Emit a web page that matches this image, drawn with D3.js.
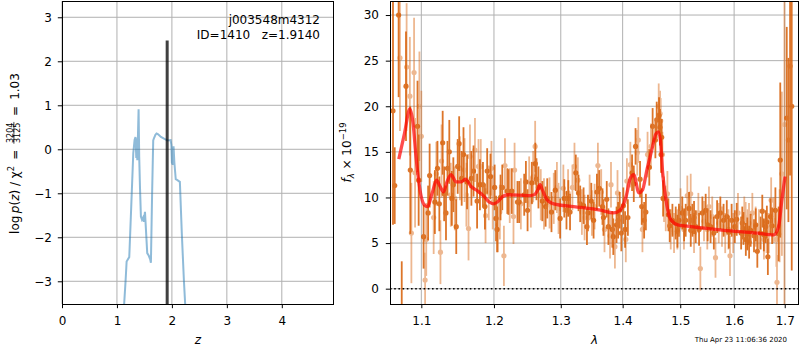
<!DOCTYPE html>
<html><head><meta charset="utf-8">
<script src="https://cdn.jsdelivr.net/npm/d3@7"></script>
<style>
body{margin:0;background:#fff;}
text{font-family:"DejaVu Sans",sans-serif;}
</style></head><body>
<svg id="c" width="800" height="350" xmlns="http://www.w3.org/2000/svg"></svg>
<script>
// ---------- DATA ----------
const objName = "j003548m4312";
const objInfo = "ID=1410   z=1.9140";
const stamp = "Thu Apr 23 11:06:36 2020";
const zBest = 1.914, zBestHeight = 2.47;

const zTicks = [0, 1, 2, 3, 4];
const logpTicks = [-3, -2, -1, 0, 1, 2, 3];
const lamTicks = [1.1, 1.2, 1.3, 1.4, 1.5, 1.6, 1.7];
const fluxTicks = [0, 5, 10, 15, 20, 25, 30];

const zGrid = [1.127,1.158,1.176,1.200,1.224,1.260,1.297,1.321,1.338,1.352,1.360,1.370,1.380,1.394,1.405,1.420,1.436,1.455,1.475,1.490,1.510,1.520,1.551,1.580,1.605,1.618,1.640,1.660,1.673,1.700,1.721,1.750,1.800,1.873,1.920,1.976,1.990,2.000,2.015,2.030,2.045,2.070,2.100,2.145,2.180,2.218,2.245];
const logPz = [-3.6,-2.97,-2.55,-2.50,-2.45,-1.30,-0.09,0.21,0.28,-0.20,0.25,-0.25,0.20,0.91,-0.17,-0.90,-1.53,-1.60,-1.55,-1.65,-1.42,-1.65,-2.36,-2.42,-2.50,-2.58,-1.00,0.20,0.25,0.33,0.36,0.34,0.28,0.23,0.20,0.21,0.10,-0.30,-0.35,0.07,-0.30,-0.68,-0.70,-0.74,-1.90,-2.97,-3.6];

// beam 1 (darker)
const waveD = [1.0633,1.0655,1.0705,1.0745,1.0800,1.0856,1.0950,1.0965,1.1030,1.1090,1.1110,1.1180,1.1215,1.1240,1.1285,1.1305,1.1330,1.1350,1.1375,1.1410,1.1430,1.1470,1.1490,1.1510,1.1545,1.1570,1.1620,1.1680,1.1710,1.1760,1.1800,
1.1843,1.1871,1.1903,1.1950,1.2010,1.2030,1.2045,1.2095,1.2120,1.2194,1.2209,1.2259,1.2343,1.2368,1.2443,1.2468,1.2493,1.2557,1.2610,1.2627,1.2657,1.2716,1.2766,1.2791,1.2856,1.2915,1.2990,1.3055,1.3089,
1.3118,1.3145,1.3236,1.3279,1.3306,1.3360,1.3414,1.3430,1.3484,1.3521,1.3575,1.3613,1.3666,1.3682,1.3736,1.3763,1.3828,1.3844,1.3898,1.3924,1.3951,1.3978,1.4012,1.4041,1.4088,1.4159,1.4188,1.4218,1.4295,1.4324,1.4365,1.4395,1.4454,1.4512,1.4560,1.4583,1.4624,1.4640,1.4660,1.4670,1.4695,
1.4789,1.4812,1.4860,1.4919,1.4950,1.4977,1.5037,1.5070,1.5098,1.5159,1.5190,1.5220,1.5250,1.5281,1.5342,1.5403,1.5464,1.5500,1.5555,1.5616,1.5677,1.5738,1.5799,1.5860,1.5900,1.5952,1.6013,1.6050,1.6135,1.6157,1.6180,1.6226,1.6255,1.6290,1.6320,1.6386,1.6420,1.6451,1.6516,1.6549,1.6580,1.6615,1.6640,1.6660,1.6713,1.6745,1.6811,1.6876,1.6909,1.7041,1.7075,1.7109,1.7143];
const fluxD = [19.5,11.3,30,-6,22.2,13.0,17.8,11.9,5.7,8.3,12.4,9.5,13.2,9.3,16.0,10.4,8.3,13.2,15.0,9.9,11.4,6.8,13.4,15.9,12.1,14.7,11.7,12.1,12.9,9.6,11.4,
11.4,9.0,12.9,12.3,11.1,7.7,6.5,10.0,11.1,10.7,10.6,10.7,9.5,9.5,10.3,11.7,8.6,11.6,13.7,12.0,11.1,9.6,9.0,9.9,8.4,10.8,7.7,9.9,8.6,
9.9,8.4,12.7,10.5,9.3,9.1,6.8,8.3,9.6,7.5,10.6,11.0,9.0,7.8,9.8,6.8,6.5,5.7,7.0,7.5,8.6,6.1,9.1,6.5,7.8,12.7,11.5,15.6,12.0,9.0,7.5,8.4,13.3,17.8,16.3,18.5,19.0,17.7,14.7,16.6,9.9,
8.1,6.9,7.5,7.2,6.3,7.5,8.3,7.0,7.5,8.8,6.4,7.5,7.8,6.8,6.5,8.3,8.6,7.0,6.8,6.1,7.9,8.3,7.5,7.9,6.2,7.5,6.8,7.6,6.1,7.2,6.6,5.4,6.0,5.1,6.4,5.8,7.0,4.1,6.1,8.5,5.9,6.8,7.3,3.5,7.9,6.9,8.6,6.0,14.1,18.7,16.3,24.4,20];
const errD = [12.5,4.2,9,9,6,7,5,5,3.5,3,3.5,3.5,3,3,3.5,3,3,3,3.5,3,3,3,3,3,3,3,3,3,2.8,3,2.8,
2.5,2.5,2.5,2.5,2.5,2.5,2.5,2.5,2.5,2.5,2.5,2.5,2.3,2.3,2.3,2.3,2.3,2.3,2.3,2.3,2.3,2.2,2.2,2.2,2.2,2.2,2.2,2.1,2.1,
2,2,2,2,2,2,2,2,2,2,2,2,2,2,2,2,2,2,2,2,2,2,2,2,2,2,2,2,2,2,2,2,2,2,2,2,2,2,2,2,2,
1.8,1.8,1.8,1.8,1.8,1.8,1.8,1.8,1.8,1.8,1.8,1.8,1.8,1.8,1.8,1.8,1.8,1.8,1.8,1.8,1.8,1.8,1.8,1.8,1.8,1.8,1.8,1.8,1.8,1.8,1.8,1.8,1.8,1.8,1.8,1.8,1.8,1.8,1.8,1.8,1.8,1.8,1.8,2,2,2,2.5,3,8.5,10,9,12,18];

// beam 2 (lighter)
const waveL = [1.0722,1.0808,1.0850,1.0870,1.0905,1.0918,1.0975,1.1000,1.1050,1.1065,1.1164,1.1200,1.1255,1.1270,1.1395,1.1450,1.1520,1.1585,1.1610,1.1640,1.1660,1.1730,1.1780,
1.1812,1.1880,1.1926,1.1964,1.1982,1.2060,1.2085,1.2144,1.2159,1.2229,1.2284,1.2300,1.2393,1.2517,1.2542,1.2577,1.2607,1.2692,1.2741,1.2826,1.2891,1.2940,1.2965,1.3040,1.3114,
1.3183,1.3215,1.3269,1.3333,1.3376,1.3457,1.3494,1.3537,1.3591,1.3645,1.3699,1.3790,1.3806,1.3871,1.3914,1.4053,1.4071,1.4130,1.4247,1.4265,1.4336,1.4424,1.4483,1.4618,1.4642,
1.4653,1.4683,1.4712,1.4742,1.4771,1.4830,1.4889,1.4948,1.5006,1.5067,1.5128,1.5189,1.5250,1.5329,1.5366,1.5433,1.5494,1.5525,1.5586,1.5647,1.5708,1.5769,1.5830,1.5891,1.5921,1.5982,1.6074,1.6196,1.6257,
1.6222,1.6288,1.6353,1.6418,1.6484,1.6582,1.6634,1.6680,1.6726,1.6778,1.6830,1.6843,1.6896,1.6942,1.6994];
const fluxL = [25.3,24.3,21.1,6.1,23.7,12.7,20.0,16.7,0.95,5.4,7.8,12.6,4.0,14.0,10.3,9.9,13.2,13.0,10.3,6.6,14.5,15.2,13.4,
13.4,8.0,10.5,13.2,9.5,7.0,8.4,3.6,13.5,10.2,7.9,13.0,9.3,11.7,9.5,12.3,15.6,10.3,9.3,9.4,9.9,11.1,8.8,11.0,10.5,
11.1,13.4,11.9,8.4,7.8,10.0,8.3,9.0,13.5,10.6,6.5,5.8,11.4,4.6,10.5,5.4,11.8,13.6,14.9,16.3,6.5,14.7,15.6,20.0,19.2,
18.4,14.7,9.8,8.8,10.4,6.5,6.1,6.5,8.8,6.5,10.2,10.4,6.1,8.3,2.2,7.4,6.5,9.0,7.9,3.4,7.2,6.8,6.1,6.5,3.6,6.1,8.3,7.9,6.5,
7.3,7.2,8.3,6.8,6.5,5.4,6.1,6.1,9.7,7.5,5.4,0.7,6.9,12.6,18];
const errL = [8,7,6.5,5.5,6,6,6,5,3,4,4,3.5,3.5,4,3.5,3.5,3.5,3.5,3.5,3.5,3.5,3.5,3,
3,3,3,3,3,3,3,3.3,3,3,3,3,2.8,2.8,2.8,2.8,2.8,2.8,2.8,2.8,2.8,2.8,2.8,2.6,2.6,
2.5,2.6,2.5,2.5,2.5,2.5,2.5,2.5,2.5,2.5,2.5,2.5,2.5,2.4,2.5,2.5,2.5,2.5,2.5,2.5,2.5,2.5,2.5,2.5,2.5,
2.5,2.5,2.5,2.5,2.5,2.2,2.2,2.2,2.2,2.2,2.2,2.2,2.2,2.2,2.4,2.2,2.2,2.2,2.2,2.2,2.2,2.2,2.2,2.2,2.2,2.2,2.2,2.2,2.2,
2.2,2.2,2.2,2.2,2.2,2.2,2.2,2.2,2.5,2.5,3,3,4,9,30];

// best-fit model
const modelWave = [1.0707,1.0780,1.0850,1.0892,1.0930,1.0983,1.1038,1.1083,1.1144,1.1204,1.1250,1.1297,1.1343,1.1399,1.1468,1.1538,1.1597,1.1676,1.1769,1.1861,1.1931,1.1992,1.2050,1.2125,1.2200,1.2496,1.2594,1.2644,1.2682,1.2718,1.2792,1.2890,1.3203,1.3634,1.3848,1.3956,1.4058,1.4129,1.4187,1.4276,1.4336,1.4412,1.4482,1.4571,1.4611,1.4647,1.4689,1.4747,1.4800,1.4870,1.4954,1.5197,1.5809,1.6451,1.6776,1.6875,1.6941,1.7006];
const modelFlux = [14.2,17.0,19.7,18.1,14.5,10.8,9.2,9.0,10.5,11.9,11.2,10.6,11.7,12.5,11.7,11.7,12.0,11.2,10.7,10.1,9.5,9.3,9.5,10.1,10.3,10.2,10.3,10.8,11.4,10.8,9.7,9.3,9.0,8.6,8.3,8.6,10.1,12.1,12.5,10.5,10.8,13.0,14.8,17.0,17.2,16.3,12.6,9.7,8.0,7.3,7.0,6.8,6.4,6.1,5.9,6.8,9.7,12.3];

// ---------- DRAW ----------
const svg = d3.select("#c");
svg.append("rect").attr("width", 800).attr("height", 350).attr("fill", "#fff");
const FS = 12, GRID = "#b0b0b0";

function panel(x0, x1, y0, y1, xs, ys, xt, yt, id) {
  const g = svg.append("g");
  g.append("clipPath").attr("id", id).append("rect")
    .attr("x", x0).attr("y", y0).attr("width", x1 - x0).attr("height", y1 - y0);
  const grid = g.append("g");
  grid.selectAll("line.v").data(xt).join("line").attr("class", "v")
    .attr("x1", d => xs(d)).attr("x2", d => xs(d)).attr("y1", y0).attr("y2", y1)
    .attr("stroke", GRID).attr("stroke-width", 1);
  grid.selectAll("line.h").data(yt).join("line").attr("class", "h")
    .attr("y1", d => ys(d)).attr("y2", d => ys(d)).attr("x1", x0).attr("x2", x1)
    .attr("stroke", GRID).attr("stroke-width", 1);
  return g;
}
function axes(x0, x1, y0, y1, xs, ys, xt, yt, xfmt, yfmt, ypad) {
  const ax = svg.append("g").attr("transform", `translate(0,${y1})`)
    .call(d3.axisBottom(xs).tickValues(xt).tickSize(4.2).tickPadding(7.8).tickFormat(xfmt));
  const ay = svg.append("g").attr("transform", `translate(${x0},0)`)
    .call(d3.axisLeft(ys).tickValues(yt).tickSize(4.2).tickPadding(ypad).tickFormat(yfmt));
  [ax, ay].forEach(a => {
    a.select(".domain").remove();
    a.selectAll(".tick line").attr("stroke", "#000").attr("stroke-width", 1);
    a.selectAll(".tick text").attr("font-size", FS).attr("font-family", "DejaVu Sans").attr("fill", "#000");
  });
  svg.append("rect").attr("x", x0 + 0.5).attr("y", y0 + 0.5).attr("width", x1 - x0 - 1).attr("height", y1 - y0)
    .attr("fill", "none").attr("stroke", "#000").attr("stroke-width", 1);
}

// ---- left panel: p(z)
const LX0 = 62, LX1 = 334, TY = 1, BY = 304;
const xz = d3.scaleLinear().domain([0, 4.95]).range([LX0, LX1]);
const yz = d3.scaleLinear().domain([-3.516, 3.37]).range([BY, TY]);
const gl = panel(LX0, LX1, TY, BY, xz, yz, zTicks, logpTicks, "clipL");
const pz = zGrid.map((z, i) => [z, logPz[i]]);
gl.append("path").datum(pz).attr("clip-path", "url(#clipL)")
  .attr("d", d3.line().x(d => xz(d[0])).y(d => yz(d[1])))
  .attr("fill", "none").attr("stroke", "#1f77b4").attr("stroke-opacity", 0.5).attr("stroke-width", 2);
gl.append("line").attr("clip-path", "url(#clipL)")
  .attr("x1", xz(zBest)).attr("x2", xz(zBest)).attr("y1", yz(-3.516)).attr("y2", yz(zBestHeight))
  .attr("stroke", "#000").attr("stroke-opacity", 0.75).attr("stroke-width", 3);
gl.append("text").attr("x", 320).attr("y", 24).attr("text-anchor", "end").attr("font-size", FS).text(objName);
gl.append("text").attr("x", 320).attr("y", 38.5).attr("text-anchor", "end").attr("font-size", FS)
  .style("white-space", "pre").text(objInfo);
axes(LX0, LX1, TY, BY, xz, yz, zTicks, logpTicks, d3.format("d"), d3.format("d"), 5.8);

// ---- right panel: spectrum
const RX0 = 390, RX1 = 799;
const xl = d3.scaleLog().domain([1.0595, 1.7293]).range([RX0, RX1]);
const yf = d3.scaleLinear().domain([-1.68, 31.54]).range([BY, TY]);
const gr = panel(RX0, RX1, TY, BY, xl, yf, lamTicks, fluxTicks, "clipR");
const data = gr.append("g").attr("clip-path", "url(#clipR)");
const COL = "#d9620c";
function beam(w, f, e, op) {
  const pts = w.map((x, i) => ({ x, f: f[i], e: e[i] }));
  const g = data.append("g").attr("opacity", op);
  g.selectAll("line").data(pts).join("line")
    .attr("x1", d => xl(d.x)).attr("x2", d => xl(d.x))
    .attr("y1", d => yf(d.f - d.e)).attr("y2", d => yf(d.f + d.e))
    .attr("stroke", COL).attr("stroke-width", 1.8);
  g.selectAll("circle").data(pts).join("circle")
    .attr("cx", d => xl(d.x)).attr("cy", d => yf(d.f)).attr("r", 2.6).attr("fill", COL);
}
beam(waveL, fluxL, errL, 0.45);
beam(waveD, fluxD, errD, 0.88);
data.append("line").attr("x1", RX0).attr("x2", RX1).attr("y1", yf(0)).attr("y2", yf(0))
  .attr("stroke", "#000").attr("stroke-width", 1.6).attr("stroke-dasharray", "1.6,2.6");
data.append("path").datum(modelWave.map((w, i) => [w, modelFlux[i]]))
  .attr("d", d3.line().curve(d3.curveMonotoneX).x(d => xl(d[0])).y(d => yf(d[1])))
  .attr("fill", "none").attr("stroke", "#ff0000").attr("stroke-opacity", 0.7).attr("stroke-width", 3.3);
axes(RX0, RX1, TY, BY, xl, yf, lamTicks, fluxTicks, d3.format(".1f"), d3.format("d"), 6.8);

// ---- axis labels
svg.append("text").attr("x", (LX0 + LX1) / 2).attr("y", 344).attr("text-anchor", "middle")
  .attr("font-size", FS).attr("font-style", "italic").text("z");
svg.append("text").attr("x", (RX0 + RX1) / 2).attr("y", 344).attr("text-anchor", "middle")
  .attr("font-size", FS).attr("font-style", "italic").text("λ");

// left y label (rotated, with stacked fraction)
(function () {
  const g = svg.append("g");
  const t1 = g.append("text").attr("font-size", FS);
  t1.append("tspan").text("log\u2009");
  t1.append("tspan").attr("font-style", "italic").text("p");
  t1.append("tspan").text("(");
  t1.append("tspan").attr("font-style", "italic").text("z");
  t1.append("tspan").text(")\u00a0/\u00a0χ");
  t1.append("tspan").attr("font-size", 8.5).attr("dy", -5).text("2");
  t1.append("tspan").attr("dy", 5).text("\u2002=\u2002");
  const w1 = t1.node().getComputedTextLength();
  const fs = 8;
  const num = g.append("text").attr("font-size", fs).attr("text-anchor", "middle").attr("y", -5.6).text("3204");
  const den = g.append("text").attr("font-size", fs).attr("text-anchor", "middle").attr("y", 1.2).text("3125");
  const wf = Math.max(num.node().getComputedTextLength(), den.node().getComputedTextLength()) + 1.5;
  num.attr("x", w1 + wf / 2); den.attr("x", w1 + wf / 2);
  g.append("line").attr("x1", w1).attr("x2", w1 + wf).attr("y1", -4.6).attr("y2", -4.6)
    .attr("stroke", "#000").attr("stroke-width", 0.7);
  const t3 = g.append("text").attr("font-size", FS).attr("x", w1 + wf).text("\u2002=\u20021.03");
  const W = w1 + wf + t3.node().getComputedTextLength();
  g.attr("transform", `translate(18.5,${153.5 + W / 2}) rotate(-90)`);
})();

// right y label
(function () {
  const g = svg.append("g");
  const t = g.append("text").attr("font-size", FS);
  t.append("tspan").attr("font-style", "italic").text("f");
  t.append("tspan").attr("font-style", "italic").attr("font-size", 8.5).attr("dy", 3).text("λ");
  t.append("tspan").attr("dy", -3).text("\u00a0×\u00a010");
  t.append("tspan").attr("font-size", 8.5).attr("dy", -5).text("−19");
  const W = t.node().getComputedTextLength();
  g.attr("transform", `translate(351,${152.5 + W / 2}) rotate(-90)`);
})();

svg.append("text").attr("x", 787).attr("y", 342).attr("text-anchor", "end")
  .attr("font-size", 7).text(stamp);
</script>
</body></html>
